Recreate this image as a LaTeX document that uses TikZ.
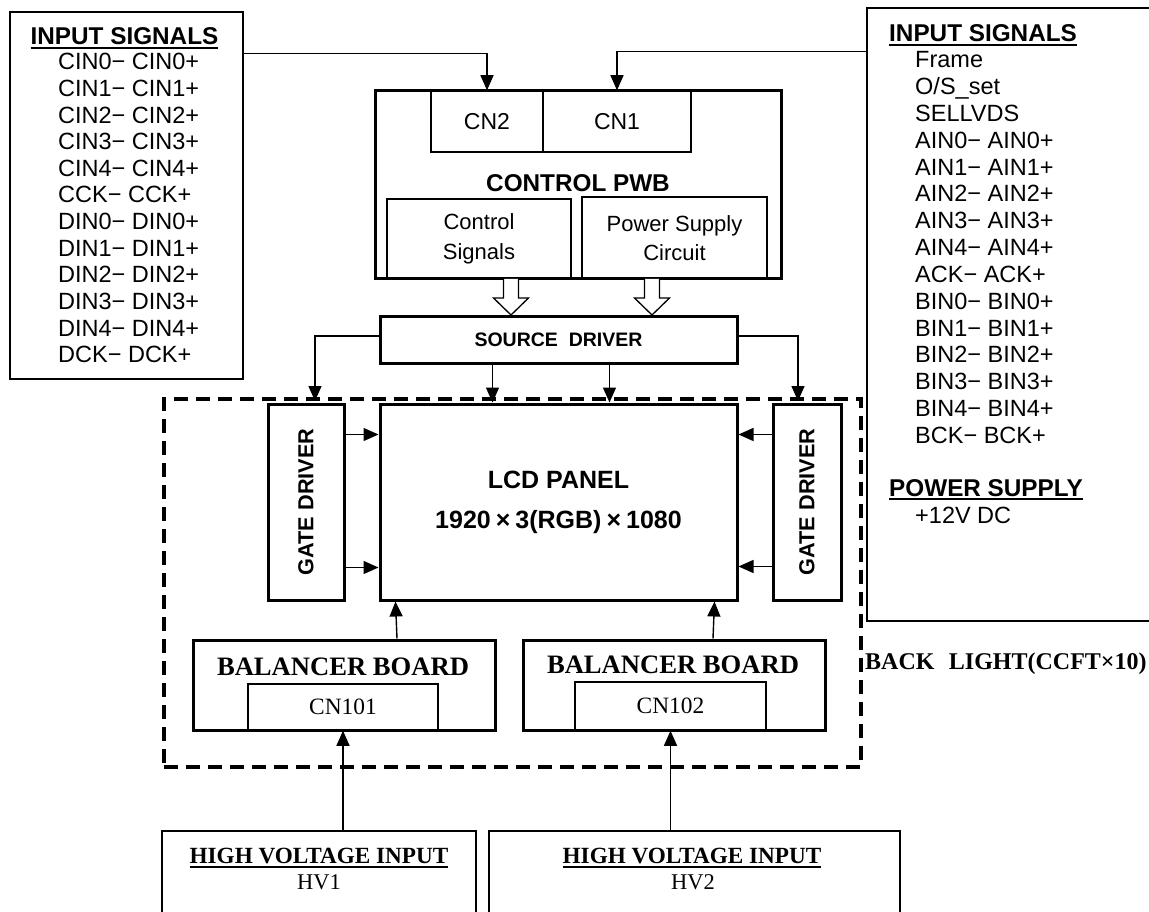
\documentclass[tikz,border=0pt]{standalone}
\usepackage{fontspec}
\setmainfont{Liberation Serif}
\setsansfont{Liberation Sans}
\usetikzlibrary{arrows.meta,calc}
\newcommand\ulx[1]{\setbox0\hbox{#1}\rlap{\rule[-4pt]{\wd0}{1.8pt}}\box0}
\begin{document}
\begin{tikzpicture}[x=1pt,y=-1pt,
  thinbox/.style={draw, line width=1.5pt, inner sep=0pt},
  thickbox/.style={draw, line width=3pt, inner sep=0pt},
  arr/.style={line width=1.4pt, -{Triangle[length=15pt,width=13pt]}},
  hollowarr/.style={draw, fill=white, line width=1.3pt, line join=miter},
  dashbox/.style={draw, line width=3.2pt, dash pattern=on 14pt off 8pt, inner sep=0pt},
  lbl/.style={inner sep=0pt},
  head/.style={lbl, font=\sffamily\bfseries\fontsize{24.3}{28}\selectfont},
  entry/.style={lbl, font=\sffamily\fontsize{23.5}{26}\selectfont},
  cnfont/.style={font=\sffamily\fontsize{23}{26}\selectfont},
  subfont/.style={font=\sffamily\fontsize{22}{29.5}\selectfont, align=center},
  boldsans/.style={font=\sffamily\bfseries\fontsize{19.5}{24}\selectfont},
  lcdfont/.style={font=\sffamily\bfseries\fontsize{25}{40}\selectfont, align=center},
  gatefont/.style={lbl, font=\sffamily\bfseries\fontsize{21.7}{24}\selectfont},
  serifbold/.style={lbl, font=\rmfamily\bfseries\fontsize{26.6}{30}\selectfont},
  cnserif/.style={font=\rmfamily\fontsize{23.4}{26}\selectfont},
  hvhead/.style={lbl, font=\rmfamily\bfseries\fontsize{23.2}{26}\selectfont},
  hvtext/.style={lbl, font=\rmfamily\fontsize{22.5}{26}\selectfont},
  blfont/.style={lbl, font=\rmfamily\bfseries\fontsize{24}{28}\selectfont}
]
\clip (0,0) rectangle (1149,912);
\fill[white] (0,0) rectangle (1149,912);

% ---------- left input box ----------
\node[thinbox, minimum width=233pt, minimum height=367pt] (lbox) at (126.5,195.5) {};
\node[head, anchor=base] (lhead) at (124.5,45) {\ulx{INPUT SIGNALS}};
\foreach \t [count=\i from 0] in {CIN0− CIN0+, CIN1− CIN1+, CIN2− CIN2+, CIN3− CIN3+, CIN4− CIN4+, CCK− CCK+, DIN0− DIN0+, DIN1− DIN1+, DIN2− DIN2+, DIN3− DIN3+, DIN4− DIN4+, DCK− DCK+}
  \node[entry, anchor=base west] (l\i) at (58,70+26.6*\i) {\t};

% ---------- right input box ----------
\node[thinbox, minimum width=293pt, minimum height=613pt] (rbox) at (1013.5,314.5) {};
\node[head, anchor=base west] (rhead) at (889,42) {\ulx{INPUT SIGNALS}};
\foreach \t [count=\i from 0] in {Frame, O/S\_set, SELLVDS, AIN0− AIN0+, AIN1− AIN1+, AIN2− AIN2+, AIN3− AIN3+, AIN4− AIN4+, ACK− ACK+, BIN0− BIN0+, BIN1− BIN1+, BIN2− BIN2+, BIN3− BIN3+, BIN4− BIN4+, BCK− BCK+}
  \node[entry, anchor=base west] (r\i) at (915,68+26.8*\i) {\t};
\node[head, anchor=base west] (pshead) at (889,496) {\ulx{POWER SUPPLY}};
\node[entry, anchor=base west] (ps) at (915,523) {+12V DC};

% ---------- backlight dashed frame ----------
\node[dashbox, minimum width=697pt, minimum height=368pt] (bl) at (512.5,583) {};
\node[blfont, anchor=base west] (bltext) at (865,669) {BACK\hspace{0.6em}LIGHT(CCFT×10)};

% ---------- control PWB ----------
\node[thinbox, minimum width=112pt, minimum height=61pt, cnfont] (cn2) at (487,121.5) {CN2};
\node[thinbox, minimum width=148pt, minimum height=61pt, cnfont] (cn1) at (617,121.5) {CN1};
\node[thinbox, minimum width=184pt, minimum height=80pt, subfont] (cs) at (479,239) {Control\\Signals};
\node[thinbox, minimum width=185pt, minimum height=82pt, subfont] (psc) at (674.5,238) {Power Supply\\Circuit};
\node[thickbox, minimum width=406pt, minimum height=188pt] (pwb) at (578,185) {};
\node[head, anchor=center] (pwbt) at (578,183) {CONTROL PWB};

% input connectors
\draw[arr] ([yshift=-42pt]lbox.north east) -| (cn2.north);
\draw[arr] ([yshift=-44pt]rbox.north west) -| (cn1.north);

% ---------- source driver ----------
\node[thickbox, minimum width=357pt, minimum height=47pt, boldsans] (sd) at (558.5,339.5) {SOURCE~~DRIVER};

% hollow arrows
\coordinate (ha1) at (511,279);
\coordinate (ha2) at (652,279);
\foreach \h in {ha1,ha2}
  \draw[hollowarr] ($(\h)+(-7.5,0)$) -- ++(0,19) -- ++(-10,0) -- ++(17.5,17) -- ++(17.5,-17) -- ++(-10,0) -- ++(0,-19);

% ---------- LCD and gate drivers ----------
\node[thickbox, minimum width=357pt, minimum height=196pt, lcdfont] (lcd) at (558.5,502) {LCD PANEL\\1920\kern0.2em×\kern0.2em3(RGB)\kern0.2em×\kern0.2em1080};
\node[thickbox, minimum width=76pt, minimum height=196pt] (gl) at (306,502) {};
\node[gatefont, rotate=90] (glt) at (gl.center) {GATE DRIVER};
\node[thickbox, minimum width=68pt, minimum height=196pt] (gr) at (807,502) {};
\node[gatefont, rotate=90] (grt) at (gr.center) {GATE DRIVER};

\coordinate (gld) at (315,401);
\coordinate (grd) at (798,401);
\draw[arr] ([yshift=3.5pt]sd.west) -| (gld);
\draw[arr] ([yshift=3.5pt]sd.east) -| (grd);
\draw[arr] ([xshift=114pt]sd.south west) -- ([xshift=114pt]lcd.north west);
\draw[arr] ([xshift=231pt]sd.south west) -- ([xshift=231pt]lcd.north west);

\draw[arr] ([yshift=-32pt]gl.north east) -- ([yshift=-32pt]lcd.north west);
\draw[arr] ([yshift=-165pt]gl.north east) -- ([yshift=-165pt]lcd.north west);
\draw[arr] ([yshift=-32pt]gr.north west) -- ([yshift=-32pt]lcd.north east);
\draw[arr] ([yshift=-164pt]gr.north west) -- ([yshift=-164pt]lcd.north east);

% ---------- balancer boards ----------
\node[thickbox, minimum width=302pt, minimum height=90pt] (bb1) at (344,685) {};
\node[serifbold] (bb1t) at (343,667) {BALANCER BOARD};
\node[thinbox, minimum width=190pt, minimum height=46pt, cnserif] (cn101) at (343,707) {CN101};
\node[thickbox, minimum width=302pt, minimum height=90pt] (bb2) at (674,685) {};
\node[serifbold] (bb2t) at (673,665) {BALANCER BOARD};
\node[thinbox, minimum width=191pt, minimum height=48pt, cnserif] (cn102) at (670.5,706) {CN102};

\draw[arr] ([xshift=53pt]bb1.north) -- ([xshift=17pt]lcd.south west);
\draw[arr] ([xshift=39pt]bb2.north) -- ([xshift=-24pt]lcd.south east);

% ---------- high voltage inputs ----------
\node[thinbox, minimum width=314pt, minimum height=99pt] (hv1) at (319,880.5) {};
\node[hvhead] (hv1h) at (319,858) {\ulx{HIGH VOLTAGE INPUT}};
\node[hvtext] (hv1t) at (319,882) {HV1};
\node[thinbox, minimum width=411pt, minimum height=99pt] (hv2) at (694.5,880.5) {};
\node[hvhead] (hv2h) at (692,858) {\ulx{HIGH VOLTAGE INPUT}};
\node[hvtext] (hv2t) at (693,882) {HV2};

\draw[arr] ([xshift=24pt]hv1.north) -- (cn101.south);
\draw[arr] ([xshift=-24pt]hv2.north) -- (cn102.south);
\end{tikzpicture}
\end{document}
